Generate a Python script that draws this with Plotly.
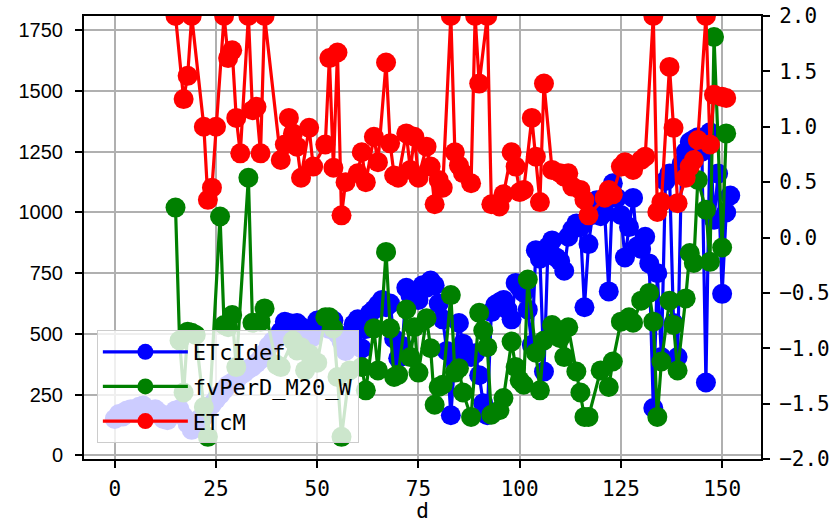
import plotly.graph_objects as go

# ---------------- data ----------------
days_etcidef = list(range(0, 153))
etcidef = [150, 170, 160, 185, 190, 175, 200, 205, 180, 170,
           190, 175, 150, 145, 170, 185, 190, 160, 130, 105,
           130, 150, 160, 190, 210, 230, 250, 270, 290, 300,
           310, 330, 340, 355, 365, 380, 395, 420, 450, 470,
           480, 510, 550, 545, 520, 545, 530, 500, 485, 490,
           555, 530, 545, 520, 555, 500, 470, 430, 480, 540,
           560, 440, 520, 585, 600, 620, 640, 610, 625, 480,
           400, 450, 690, 660, 670, 640, 700, 690, 720, 700,
           625, 560, 430, 165, 400, 545, 460, 420, 405, 420,
           330, 215, 165, 590, 620, 630, 640, 600, 560, 710,
           690, 670, 600, 455, 845, 810, 345, 860, 885, 815,
           800, 760, 900, 930, 955, 940, 610, 870, 990, 1050,
           985, 1000, 675, 1120, 1060, 990, 815, 940, 1060, 860,
           850, 900, 790, 195, 750, 405, 1130, 1160, 545, 405,
           1200, 1250, 1290, 1300, 1310, 1250, 300, 1330, 970, 1160,
           665, 1000, 1070]

days_fv = [15, 16, 17, 18, 19, 20, 22, 23, 26, 27,
           28, 29, 30, 33, 34, 36, 37, 40, 41, 44,
           45, 46, 47, 48, 50, 52, 53, 54, 55, 56,
           58, 61, 62, 64, 65, 67, 68, 69, 70, 72,
           73, 74, 75, 77, 78, 79, 80, 81, 83, 84,
           85, 86, 88, 90, 91, 92, 93, 95, 96, 98,
           99, 100, 101, 102, 104, 105, 106, 108, 110, 111,
           112, 114, 115, 116, 117, 120, 122, 123, 125, 127,
           128, 130, 132, 133, 134, 135, 137, 138, 139, 141,
           142, 143, 144, 146, 147, 148, 150, 151]
fv_per_d = [0.27, -0.93, -1.40, -0.85, -0.86, -0.88, -1.53, -1.80, 0.19, -0.79,
            -0.81, -0.70, -1.17, 0.54, -0.77, -0.76, -0.64, -1.15, -1.17, -0.93,
            -1.02, -0.99, -1.20, -1.05, -1.13, -0.72, -0.72, -0.82, -1.26, -1.80,
            -1.20, -1.17, -1.38, -0.82, -1.20, -0.13, -0.82, -1.26, -1.24, -0.65,
            -1.08, -0.81, -1.22, -0.73, -1.00, -1.51, -1.35, -1.33, -0.52, -1.22,
            -1.18, -1.40, -1.62, -0.68, -0.84, -0.99, -1.60, -1.56, -1.45, -0.94,
            -1.17, -1.29, -1.33, -0.38, -1.04, -1.38, -0.93, -0.79, -0.91, -1.08,
            -0.81, -1.21, -1.40, -1.62, -1.62, -1.20, -1.35, -1.12, -0.76, -0.72,
            -0.77, -0.57, -0.50, -0.76, -1.62, -1.12, -0.57, -0.79, -1.20, -0.55,
            -0.14, -0.23, 0.52, 0.25, -0.22, 1.81, -0.09, 0.94]

days_etcm = [15, 17, 18, 19, 22, 23, 24, 25, 27, 28,
             29, 30, 31, 33, 34, 35, 36, 37, 41, 42,
             43, 44, 45, 46, 48, 49, 52, 53, 54, 55,
             56, 57, 60, 61, 62, 64, 65, 67, 68, 69,
             70, 72, 73, 74, 75, 77, 78, 79, 80, 81,
             83, 84, 85, 86, 88, 89, 90, 92, 93, 95,
             96, 98, 99, 100, 101, 103, 104, 105, 106, 108,
             110, 111, 112, 113, 115, 116, 117, 121, 122, 123,
             125, 126, 128, 130, 131, 133, 134, 135, 137, 138,
             139, 141, 142, 143, 144, 146, 147, 148, 150, 151]
etcm = [2.0, 1.25, 1.46, 2.0, 1.00, 0.34, 0.45, 1.00, 2.0, 1.62,
        1.69, 1.08, 0.76, 2.0, 1.15, 1.18, 0.76, 2.0, 0.70, 0.84,
        1.08, 0.94, 0.82, 0.54, 0.99, 0.64, 0.84, 1.62, 0.63, 1.67,
        0.20, 0.50, 0.58, 0.77, 0.50, 0.91, 0.68, 1.58, 0.85, 0.56,
        0.54, 0.94, 0.61, 0.91, 0.54, 0.82, 0.64, 0.30, 0.52, 0.45,
        2.0, 0.77, 0.65, 0.58, 0.49, 2.0, 1.39, 2.0, 0.30, 0.28,
        0.39, 0.77, 0.64, 0.41, 0.43, 1.08, 0.73, 0.32, 1.39, 0.61,
        0.58, 0.55, 0.58, 0.46, 0.43, 0.34, 0.20, 0.36, 0.43, 0.39,
        0.64, 0.68, 0.61, 0.70, 0.73, 2.0, 0.23, 0.32, 1.54, 0.99,
        0.31, 0.54, 0.64, 0.70, 0.88, 2.0, 0.84, 1.29, 1.27, 1.26]

left_ticks = [0, 250, 500, 750, 1000, 1250, 1500, 1750]
right_ticks = [-2.0, -1.5, -1.0, -0.5, 0.0, 0.5, 1.0, 1.5, 2.0]
x_ticks = [0, 25, 50, 75, 100, 125, 150]

# ---------------- figure ----------------
MS = 20
LW = 3.2
fig = go.Figure()
fig.add_trace(go.Scatter(x=days_etcidef, y=etcidef, name="ETcIdef", mode="lines+markers",
                         line=dict(color="blue", width=LW), marker=dict(color="blue", size=MS),
                         legendgroup="a", yaxis="y"))
fig.add_trace(go.Scatter(x=days_fv, y=fv_per_d, name="fvPerD_M20_W", mode="lines+markers",
                         line=dict(color="green", width=LW), marker=dict(color="green", size=MS),
                         legendgroup="b", yaxis="y2"))
fig.add_trace(go.Scatter(x=days_etcm, y=etcm, name="ETcM", mode="lines+markers",
                         line=dict(color="red", width=LW), marker=dict(color="red", size=MS),
                         legendgroup="c", yaxis="y2"))

tick_common = dict(ticks="outside", ticklen=7, tickwidth=1.5, tickcolor="black",
                   showline=True, linecolor="black", linewidth=2, zeroline=False,
                   ticklabeloverflow="allow")

fig.update_layout(
    width=838, height=523,
    margin=dict(l=84, r=77, t=16, b=64),
    plot_bgcolor="white", paper_bgcolor="white",
    showlegend=True,
    hovermode=False,
    legend=dict(x=0.019, y=0.036, xanchor="left", yanchor="bottom",
                bgcolor="rgba(255,255,255,0.8)", bordercolor="#cccccc", borderwidth=1,
                font=dict(family="DejaVu Sans Mono", size=22, color="black"),
                tracegroupgap=3, itemwidth=85),
    xaxis=dict(range=[-7.6, 159.6], tickvals=x_ticks, showgrid=True, gridcolor="#b0b0b0",
               gridwidth=1.5, mirror=True, ticklabelstandoff=3,
               tickfont=dict(family="DejaVu Sans Mono", size=21, color="black"),
               title=dict(text="d", font=dict(family="DejaVu Sans Mono", size=21, color="black"),
                          standoff=19),
               automargin=False, **tick_common),
    yaxis=dict(range=[-15, 1809], tickvals=left_ticks, showgrid=True, gridcolor="#b0b0b0",
               gridwidth=1.5, mirror=True, ticklabelstandoff=8,
               tickfont=dict(family="Liberation Sans", size=20, color="black"),
               automargin=False, **tick_common),
    yaxis2=dict(range=[-2, 2], tickvals=right_ticks, tickformat=".1f", overlaying="y",
                side="right", showgrid=False, ticklabelstandoff=5,
                tickfont=dict(family="DejaVu Sans Mono", size=21, color="black"),
                automargin=False, **tick_common),
)

# remove the browser's default 8px body margin so the figure sits at the page origin
fig.write_html("out.html", config={"displayModeBar": False},
               post_script="document.body.style.margin='0px';")
